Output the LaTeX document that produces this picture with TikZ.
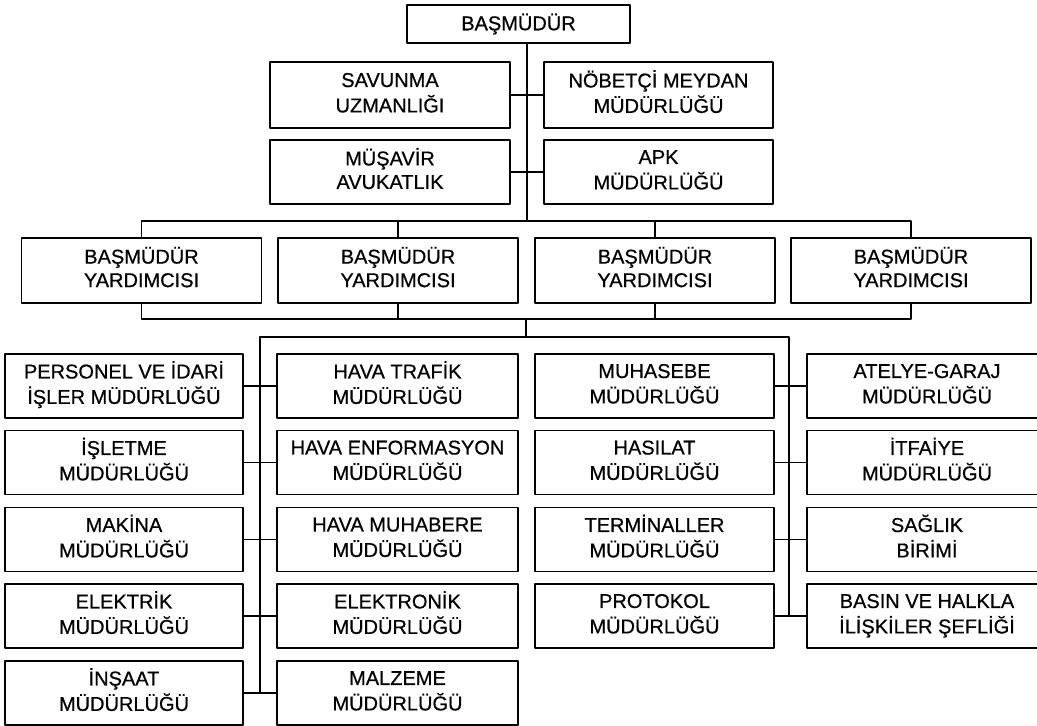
\documentclass[tikz,border=0pt]{standalone}
\usepackage{fontspec}
\setmainfont{Liberation Sans}[FakeBold=0.6]
\usepackage{tikz}
\newcommand\twoline[2]{\strut#1\\\strut#2}
\begin{document}
\begin{tikzpicture}[x=1pt,y=-1pt,line cap=round,line join=round,
    unit/.style={draw,line width=1.2pt,align=center,inner sep=0pt,
      font=\fontsize{20}{23.5}\selectfont,minimum height=64pt},
    wL/.style={unit,minimum width=238pt},
    wM/.style={unit,minimum width=241pt},
    wR/.style={unit,minimum width=239pt},
    wX/.style={unit,minimum width=240pt},
    link/.style={line width=1.2pt}]
        \useasboundingbox (0,0) rectangle (1037,726);
        \clip (0,0) rectangle (1037,726);
        % head and staff
        \node[unit,minimum width=223pt,minimum height=38pt] (bas) at (518.5,24) {BAŞMÜDÜR};
        \node[wX,minimum height=66pt] (savunma) at (390,95) {\twoline{SAVUNMA}{UZMANLIĞI}};
        \node[unit,minimum width=229pt,minimum height=66pt] (nobetci) at (658.5,95) {\twoline{NÖBETÇİ MEYDAN}{MÜDÜRLÜĞÜ}};
        \node[wX] (musavir) at (390,172) {\twoline{MÜŞAVİR}{AVUKATLIK}};
        \node[unit,minimum width=229pt] (apk) at (658.5,172) {\twoline{APK}{MÜDÜRLÜĞÜ}};
        % deputies
        \foreach \i/\x in {1/141.5,2/398,3/655,4/911}
            \node[wX,minimum height=65pt] (bmy\i) at (\x,270.5) {\twoline{BAŞMÜDÜR}{YARDIMCISI}};
        % left block
        \node[wL] (personel) at (124,386) {\twoline{PERSONEL VE İDARİ}{İŞLER MÜDÜRLÜĞÜ}};
        \node[wL] (isletme) at (124,462.5) {\twoline{İŞLETME}{MÜDÜRLÜĞÜ}};
        \node[wL] (makina) at (124,539.5) {\twoline{MAKİNA}{MÜDÜRLÜĞÜ}};
        \node[wL] (elektrik) at (124,616) {\twoline{ELEKTRİK}{MÜDÜRLÜĞÜ}};
        \node[wL] (insaat) at (124,693) {\twoline{İNŞAAT}{MÜDÜRLÜĞÜ}};
        \node[wM] (havatrafik) at (397.5,386) {\twoline{HAVA TRAFİK}{MÜDÜRLÜĞÜ}};
        \node[wM] (havaenf) at (397.5,462.5) {\twoline{HAVA ENFORMASYON}{MÜDÜRLÜĞÜ}};
        \node[wM] (havamuh) at (397.5,539.5) {\twoline{HAVA MUHABERE}{MÜDÜRLÜĞÜ}};
        \node[wM] (elektronik) at (397.5,616) {\twoline{ELEKTRONİK}{MÜDÜRLÜĞÜ}};
        \node[wM] (malzeme) at (397.5,693) {\twoline{MALZEME}{MÜDÜRLÜĞÜ}};
        % right block
        \node[wR] (muhasebe) at (654.5,386) {\twoline{MUHASEBE}{MÜDÜRLÜĞÜ}};
        \node[wR] (hasilat) at (654.5,462.5) {\twoline{HASILAT}{MÜDÜRLÜĞÜ}};
        \node[wR] (terminal) at (654.5,539.5) {\twoline{TERMİNALLER}{MÜDÜRLÜĞÜ}};
        \node[wR] (protokol) at (654.5,616) {\twoline{PROTOKOL}{MÜDÜRLÜĞÜ}};
        \node[wX] (atelye) at (927,386) {\twoline{ATELYE-GARAJ}{MÜDÜRLÜĞÜ}};
        \node[wX] (itfaiye) at (927,462.5) {\twoline{İTFAİYE}{MÜDÜRLÜĞÜ}};
        \node[wX] (saglik) at (927,539.5) {\twoline{SAĞLIK}{BİRİMİ}};
        \node[wX] (basin) at (927,616) {\twoline{BASIN VE HALKLA}{İLİŞKİLER ŞEFLİĞİ}};
        % junctions
        \coordinate (axis) at (527,221);
        \coordinate (hub) at (526,319);
        \coordinate (split) at (526,337);
        \coordinate (trunkL) at (260,337);
        \coordinate (trunkR) at (789,337);
        % connectors
        \draw[link] (bas.south -| axis) -- (axis);
        \draw[link] (savunma) -- (nobetci);
        \draw[link] (musavir) -- (apk);
        \draw[link] (bmy1.north) |- (axis) -| (bmy4.north);
        \draw[link] (bmy2.north) -- (bmy2.north |- axis);
        \draw[link] (bmy3.north) -- (bmy3.north |- axis);
        \draw[link] (bmy1.south) |- (hub) -| (bmy4.south);
        \draw[link] (bmy2.south) -- (bmy2.south |- hub);
        \draw[link] (bmy3.south) -- (bmy3.south |- hub);
        \draw[link] (hub) -- (split);
        \draw[link] (trunkL |- insaat) -- (trunkL) -- (trunkR) -- (trunkR |- protokol);
        \foreach \a/\b in {personel/havatrafik,isletme/havaenf,makina/havamuh,
            elektrik/elektronik,insaat/malzeme,muhasebe/atelye,hasilat/itfaiye,
            terminal/saglik,protokol/basin}
            \draw[link] (\a.east) -- (\b.west);
    \end{tikzpicture}
\end{document}
